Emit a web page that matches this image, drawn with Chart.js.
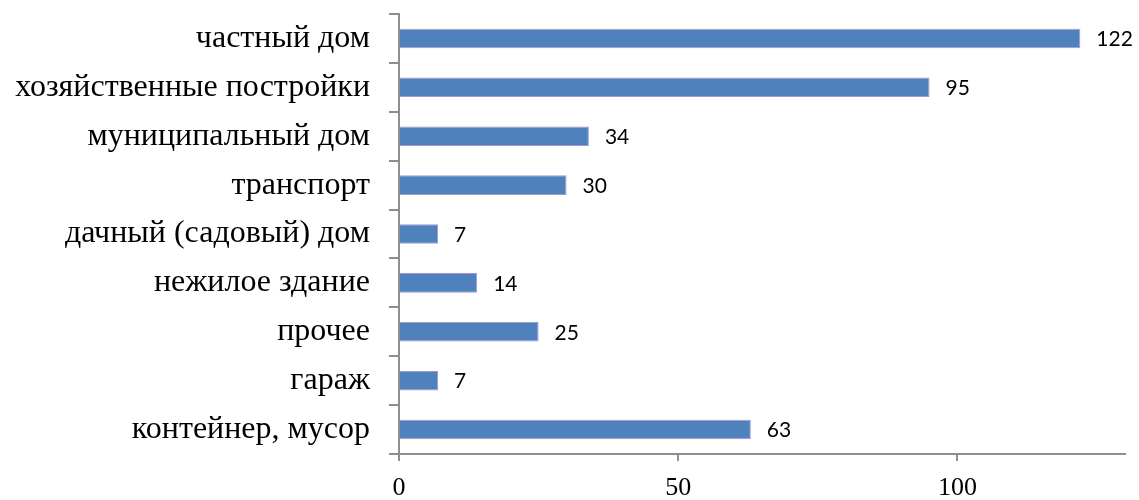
<!DOCTYPE html>
<html>
<head>
<meta charset="utf-8">
<script src="https://cdn.jsdelivr.net/npm/chart.js@4/dist/chart.umd.min.js"></script>
<style>
html,body{margin:0;padding:0;background:#fff;}
#wrap{width:1139px;height:500px;position:relative;}
</style>
</head>
<body>
<div id="wrap"><canvas id="c" width="1139" height="500"></canvas></div>
<script>
const categories = ["частный дом","хозяйственные постройки","муниципальный дом","транспорт","дачный (садовый) дом","нежилое здание","прочее","гараж","контейнер, мусор"];
const values = [122, 95, 34, 30, 7, 14, 25, 7, 63];
const xTicks = [0, 50, 100];

const axisColor = '#8e8e8e';

const valueLabels = {
  id: 'valueLabels',
  afterDatasetsDraw(chart) {
    const ctx = chart.ctx;
    const meta = chart.getDatasetMeta(0);
    ctx.save();
    ctx.font = '21px Lato';
    ctx.fillStyle = '#000';
    ctx.textAlign = 'left';
    ctx.textBaseline = 'middle';
    meta.data.forEach((el, i) => {
      ctx.fillText(String(values[i]), el.x + 16, el.y + 1);
    });
    ctx.restore();
  }
};

new Chart(document.getElementById('c'), {
  type: 'bar',
  data: {
    labels: categories,
    datasets: [{
      data: values,
      backgroundColor: '#4F81BD',
      borderColor: '#a895cc',
      borderWidth: 1,
      barPercentage: 0.4,
      categoryPercentage: 1
    }]
  },
  options: {
    indexAxis: 'y',
    responsive: false,
    animation: false,
    layout: { padding: { top: 14, right: 14, left: 0, bottom: 0 } },
    plugins: { legend: { display: false }, tooltip: { enabled: false } },
    scales: {
      y: {
        type: 'category',
        position: 'left',
        grid: { drawOnChartArea: false, drawTicks: true, tickLength: 10, color: axisColor, lineWidth: 2, offset: true },
        border: { color: axisColor, width: 2 },
        ticks: { font: { family: 'Liberation Serif', size: 32 }, color: '#000', padding: 19, autoSkip: false },
        afterFit: s => { s.width = 399; s.paddingTop = 0; s.paddingBottom = 0; }
      },
      x: {
        type: 'linear',
        min: 0,
        max: 130,
        grid: { drawOnChartArea: false, drawTicks: true, tickLength: 7, color: axisColor, lineWidth: 2 },
        border: { color: axisColor, width: 2 },
        ticks: { font: { family: 'Liberation Serif', size: 26 }, color: '#000', padding: 12, maxRotation: 0 },
        afterBuildTicks: s => { s.ticks = xTicks.map(v => ({ value: v })); },
        afterFit: s => { s.height = 46; s.paddingLeft = 0; s.paddingRight = 0; }
      }
    }
  },
  plugins: [valueLabels]
});
</script>
</body>
</html>
